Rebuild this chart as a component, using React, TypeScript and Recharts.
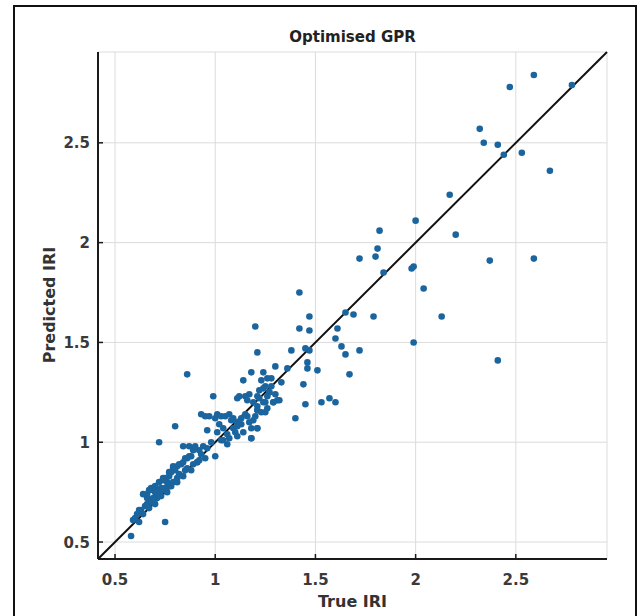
import React from "react";
import { ScatterChart, Scatter, XAxis, YAxis, CartesianGrid, ReferenceLine } from "recharts";

// true IRI (x) vs predicted IRI (y)
const trueIRI = [
  0.58, 0.59, 0.62, 0.61, 0.60, 0.63, 0.65, 0.66, 0.68, 0.69, 0.71, 0.71, 0.73, 0.75, 0.77, 0.79, 0.81, 0.82, 0.85, 0.86, 0.89, 0.91,
  0.66, 0.67, 0.70, 0.72, 0.75, 0.77, 0.80, 0.81, 0.84, 0.86, 0.88, 0.91, 0.93, 0.95,
  0.64, 0.68, 0.70, 0.73, 0.76, 0.78, 0.74, 0.79, 0.83, 0.87, 0.92, 0.75,
  0.72, 0.80, 0.84, 0.87, 0.89, 0.94, 0.96, 1.00, 0.99, 0.96,
  1.01, 1.04, 1.06, 1.09, 1.11, 1.14, 1.18, 1.21, 1.03, 1.06, 1.07, 1.11, 1.18,
  0.93, 0.95, 0.97, 1.00, 1.01, 1.03, 1.05, 1.07, 1.09, 1.11, 1.13, 1.16, 1.19, 1.21, 1.23, 1.26,
  1.11, 1.12, 1.16, 1.17, 1.19, 1.21, 1.22, 1.24, 1.26, 1.27, 1.29, 1.30, 1.31, 1.14, 0.86,
  1.23, 1.26, 1.28, 1.24, 1.21, 1.27, 1.29, 1.32, 1.25, 1.21, 1.25, 1.21, 1.18,
  1.18, 1.24, 1.30, 1.36, 1.46, 1.46, 1.51, 1.21, 1.38, 1.45, 1.47,
  1.44, 1.45, 1.40, 1.53, 1.57, 1.60, 1.20, 1.42, 1.47, 1.42, 1.47,
  1.65, 1.69, 1.79, 1.61, 1.60, 1.63, 1.65, 1.72, 1.67,
  1.72, 1.81, 1.80, 1.82, 1.84, 1.99, 1.98, 2.00, 2.04, 2.13, 1.99, 2.20, 2.17,
  2.37, 2.59, 2.41, 2.32, 2.34, 2.41, 2.44, 2.53, 2.67, 2.47, 2.59, 2.78,
  0.62, 0.64, 0.66, 0.67, 0.69, 0.70, 0.72, 0.73, 0.74, 0.76, 0.77, 0.78, 0.79, 0.81, 0.82, 0.84, 0.85, 0.88,
  0.90, 0.92, 0.98, 1.02, 1.04, 1.08, 1.10, 1.13, 1.15, 1.17, 1.20, 1.22, 1.25, 1.28, 1.33, 1.15,
];
const predictedIRI = [
  0.53, 0.61, 0.60, 0.64, 0.62, 0.66, 0.68, 0.69, 0.70, 0.72, 0.72, 0.74, 0.76, 0.77, 0.78, 0.80, 0.82, 0.84, 0.86, 0.87, 0.89, 0.90,
  0.72, 0.76, 0.78, 0.80, 0.82, 0.83, 0.86, 0.88, 0.90, 0.92, 0.93, 0.90, 0.94, 0.92,
  0.74, 0.77, 0.75, 0.77, 0.80, 0.85, 0.82, 0.88, 0.89, 0.93, 0.96, 0.60,
  1.00, 1.08, 0.98, 0.98, 0.96, 0.98, 1.06, 0.93, 1.23, 0.97,
  1.05, 1.07, 1.04, 1.07, 1.08, 1.05, 1.07, 1.07, 1.01, 0.99, 1.02, 1.03, 1.02,
  1.14, 1.13, 1.13, 1.12, 1.14, 1.13, 1.13, 1.14, 1.12, 1.10, 1.12, 1.13, 1.11, 1.16, 1.15, 1.17,
  1.22, 1.23, 1.21, 1.24, 1.20, 1.18, 1.22, 1.20, 1.23, 1.25, 1.20, 1.24, 1.21, 1.31, 1.34,
  1.31, 1.32, 1.32, 1.27, 1.23, 1.25, 1.20, 1.21, 1.20, 1.16, 1.15, 1.07, 1.02,
  1.35, 1.35, 1.38, 1.37, 1.40, 1.37, 1.36, 1.45, 1.46, 1.47, 1.46,
  1.29, 1.19, 1.12, 1.20, 1.22, 1.20, 1.58, 1.75, 1.63, 1.57, 1.56,
  1.65, 1.64, 1.63, 1.57, 1.52, 1.48, 1.44, 1.46, 1.34,
  1.92, 1.97, 1.93, 2.06, 1.85, 1.88, 1.87, 2.11, 1.77, 1.63, 1.50, 2.04, 2.24,
  1.91, 1.92, 1.41, 2.57, 2.50, 2.49, 2.44, 2.45, 2.36, 2.78, 2.84, 2.79,
  0.66, 0.64, 0.74, 0.67, 0.76, 0.69, 0.76, 0.73, 0.81, 0.75, 0.85, 0.78, 0.87, 0.80, 0.89, 0.83, 0.92, 0.86,
  0.98, 0.91, 1.00, 1.09, 1.01, 1.11, 1.05, 1.09, 1.14, 1.10, 1.13, 1.26, 1.28, 1.28, 1.30, 1.23,
];

const axisLimits = [0.415, 2.955];
const tickValues = [0.5, 1, 1.5, 2, 2.5];
const tickLabels = ["0.5", "1", "1.5", "2", "2.5"];

const points = trueIRI.map((t, i) => ({ x: t, y: predictedIRI[i] }));
const labelOf = (v: number) => tickLabels[tickValues.indexOf(v)] ?? String(v);

const FONT = "'DejaVu Sans', Arial, sans-serif";
const TICK_FONT = { fontFamily: FONT, fontSize: 15, fontWeight: 700, fill: "#3a3a3a" };

function YTick({ x, y, payload }: any) {
  const axisX = x + 8;
  return (
    <g>
      <line x1={axisX} x2={axisX + 5} y1={y} y2={y} stroke="#1a1a1a" strokeWidth={1.5} />
      <text x={x} y={y} dy={5.5} textAnchor="end" {...TICK_FONT}>
        {labelOf(payload.value)}
      </text>
    </g>
  );
}

function XTick({ x, y, payload }: any) {
  const axisY = y - 10;
  return (
    <g>
      <line x1={x} x2={x} y1={axisY} y2={axisY - 5} stroke="#1a1a1a" strokeWidth={1.5} />
      <text x={x} y={y} dy={15.5} textAnchor="middle" {...TICK_FONT}>
        {labelOf(payload.value)}
      </text>
    </g>
  );
}

const Dot = (props: any) => <circle cx={props.cx} cy={props.cy} r={3.3} fill="#1b659f" />;

export default function App() {
  return (
    <div style={{ position: "absolute", left: 0, top: 0, width: 639, height: 616, background: "#fff", overflow: "hidden" }}>
      <div
        style={{
          position: "absolute",
          left: 13,
          top: 5,
          width: 620,
          height: 640,
          border: "2px solid #111",
        }}
      />
      <ScatterChart width={639} height={616} margin={{ top: 52, right: 32, bottom: 27, left: 38 }}>
        <CartesianGrid stroke="#dcdcdc" strokeWidth={1} />
        <XAxis
          type="number"
          dataKey="x"
          domain={axisLimits}
          ticks={tickValues}
          allowDataOverflow
          height={30}
          tickSize={0}
          tickMargin={10}
          tickLine={false}
          tick={<XTick />}
          axisLine={{ stroke: "#1a1a1a", strokeWidth: 2 }}
        />
        <YAxis
          type="number"
          dataKey="y"
          domain={axisLimits}
          ticks={tickValues}
          allowDataOverflow
          width={60}
          tickSize={0}
          tickMargin={8}
          tickLine={false}
          tick={<YTick />}
          axisLine={{ stroke: "#1a1a1a", strokeWidth: 2 }}
        />
        <Scatter data={points} shape={Dot} isAnimationActive={false} />
        <ReferenceLine
          segment={[
            { x: axisLimits[0], y: axisLimits[0] },
            { x: axisLimits[1], y: axisLimits[1] },
          ]}
          stroke="#111"
          strokeWidth={2}
        />
      </ScatterChart>
      <div
        style={{
          position: "absolute",
          left: 252.5,
          width: 200,
          top: 28,
          lineHeight: "18px",
          textAlign: "center",
          fontFamily: FONT,
          fontWeight: 700,
          fontSize: 15,
          color: "#222",
        }}
      >
        Optimised GPR
      </div>
      <div
        style={{
          position: "absolute",
          left: 252.5,
          width: 200,
          top: 593,
          lineHeight: "18px",
          textAlign: "center",
          fontFamily: FONT,
          fontWeight: 700,
          fontSize: 16,
          color: "#333",
        }}
      >
        True IRI
      </div>
      <div
        style={{
          position: "absolute",
          left: 50,
          top: 305,
          transform: "translate(-50%, -50%) rotate(-90deg)",
          whiteSpace: "nowrap",
          lineHeight: "18px",
          fontFamily: FONT,
          fontWeight: 700,
          fontSize: 16,
          color: "#333",
        }}
      >
        Predicted IRI
      </div>
    </div>
  );
}
